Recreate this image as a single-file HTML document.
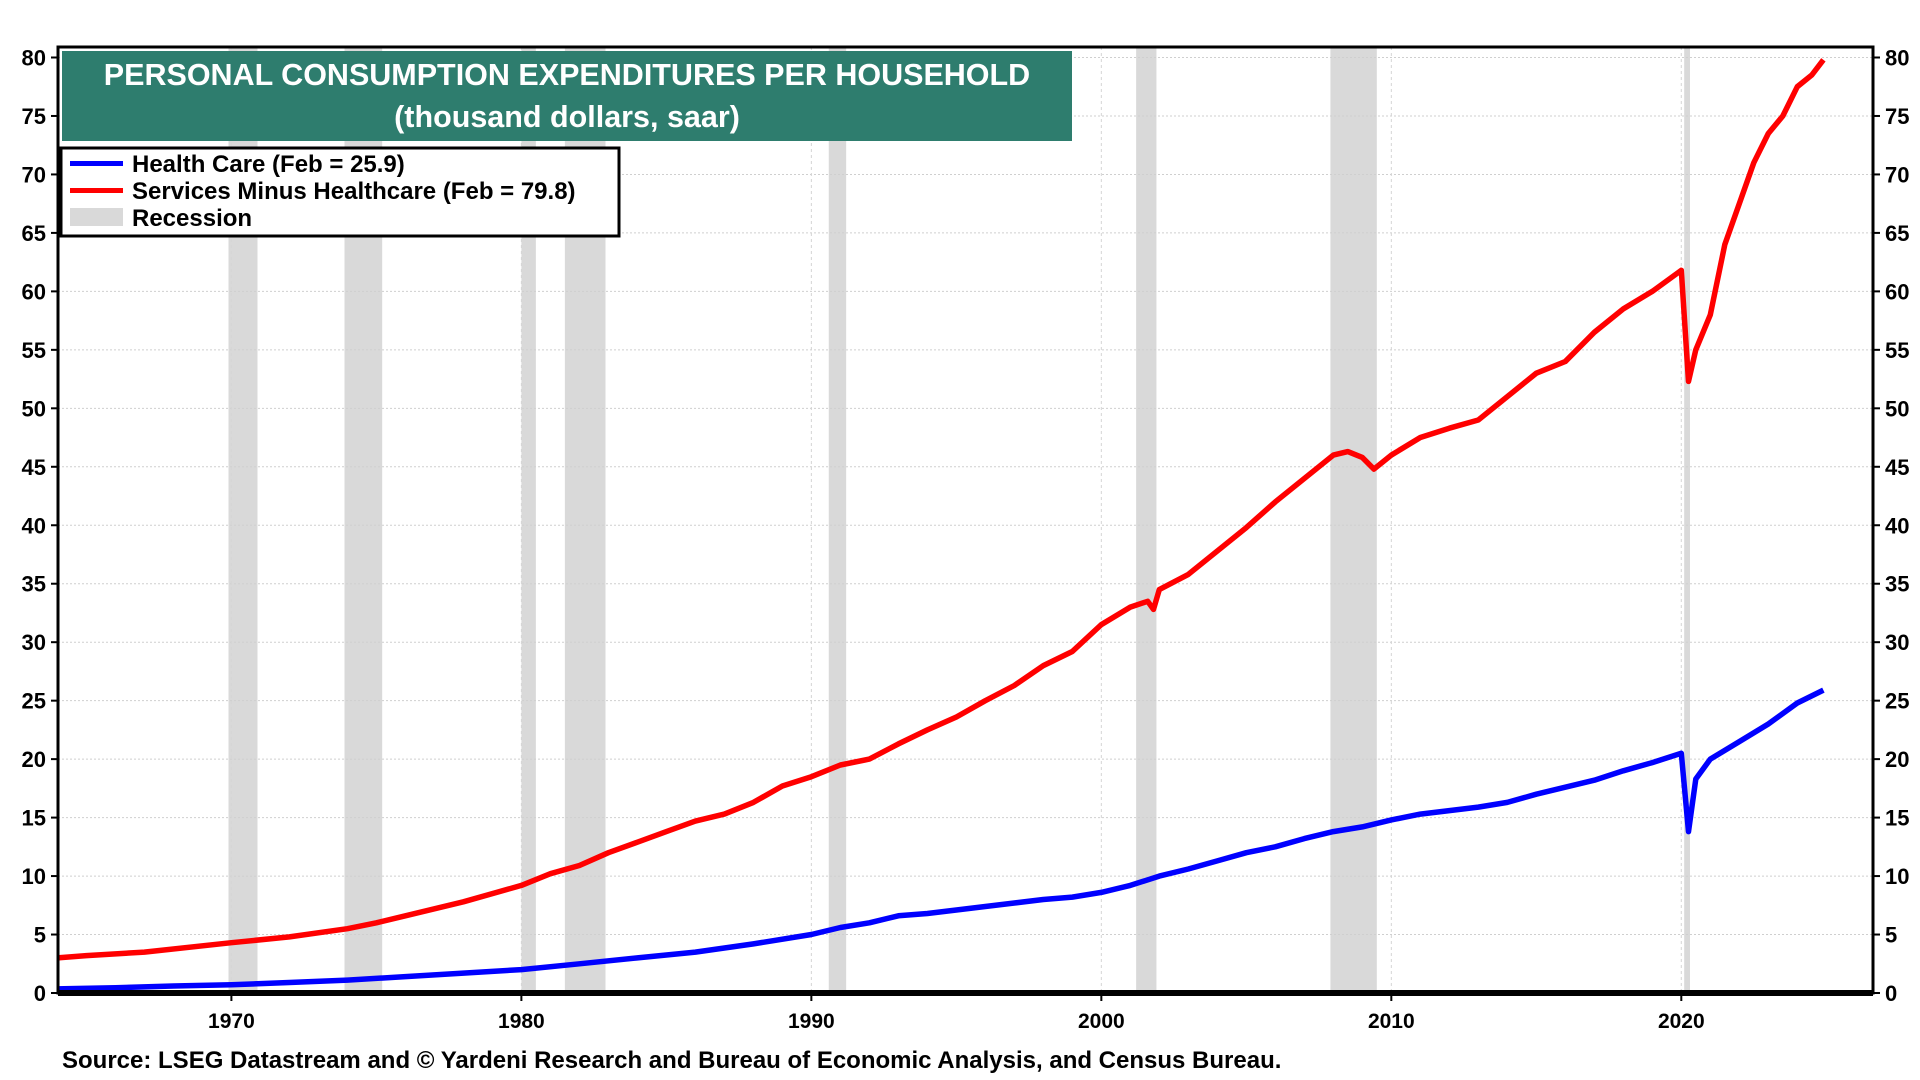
<!DOCTYPE html>
<html><head><meta charset="utf-8"><style>
html,body{margin:0;padding:0;background:#fff;}
svg{display:block;font-family:"Liberation Sans Narrow","Liberation Sans",sans-serif;font-weight:bold;}
</style></head><body>
<svg id="chart" width="1920" height="1080"></svg>
<script>
const recessions=[[1969.9,1970.9],[1973.9,1975.2],[1980.0,1980.5],[1981.5,1982.9],[1990.6,1991.2],[2001.2,2001.9],[2007.9,2009.5],[2020.1,2020.3]];
const yTicks=[0,5,10,15,20,25,30,35,40,45,50,55,60,65,70,75,80];
const xTicks=[1970,1980,1990,2000,2010,2020];
const servYears=[1964,1965,1967,1970,1972,1974,1975,1976,1978,1980,1981,1982,1983,1984,1985,1986,1987,1988,1989,1990,1991,1992,1993,1994,1995,1996,1997,1998,1999,2000,2001,2001.6,2001.8,2002,2003,2004,2005,2006,2007,2008,2008.5,2009,2009.4,2010,2011,2012,2013,2014,2015,2016,2017,2018,2019,2020.0,2020.25,2020.5,2021,2021.5,2022,2022.5,2023,2023.5,2024,2024.5,2024.9];
const servVals=[3.0,3.2,3.5,4.3,4.8,5.5,6.0,6.6,7.8,9.2,10.2,10.9,12.0,12.9,13.8,14.7,15.3,16.3,17.7,18.5,19.5,20.0,21.3,22.5,23.6,25.0,26.3,28.0,29.2,31.5,33.0,33.5,32.8,34.5,35.8,37.8,39.8,42.0,44.0,46.0,46.3,45.8,44.8,46.0,47.5,48.3,49.0,51.0,53.0,54.0,56.5,58.5,60.0,61.8,52.3,55.0,58.0,64.0,67.5,71.0,73.5,75.0,77.5,78.5,79.8];
const hcYears=[1964,1966,1968,1970,1972,1974,1976,1978,1980,1982,1984,1986,1988,1990,1991,1992,1993,1994,1995,1996,1997,1998,1999,2000,2001,2002,2003,2004,2005,2006,2007,2008,2009,2010,2011,2012,2013,2014,2015,2016,2017,2018,2019,2020.0,2020.25,2020.5,2021,2022,2023,2024,2024.9];
const hcVals=[0.35,0.45,0.6,0.7,0.9,1.1,1.4,1.7,2.0,2.5,3.0,3.5,4.2,5.0,5.6,6.0,6.6,6.8,7.1,7.4,7.7,8.0,8.2,8.6,9.2,10.0,10.6,11.3,12.0,12.5,13.2,13.8,14.2,14.8,15.3,15.6,15.9,16.3,17.0,17.6,18.2,19.0,19.7,20.5,13.8,18.3,20.0,21.5,23.0,24.8,25.9];

const L=58,R=1873,T=47,B=993;
const x=yr=>231.4+(yr-1970)*(1681.3-231.4)/50;
const y=v=>B-(v/80)*(B-57.5);
const svg=document.getElementById('chart');
const NS='http://www.w3.org/2000/svg';
function mk(tag,attrs,parent){const e=document.createElementNS(NS,tag);for(const k in attrs)e.setAttribute(k,attrs[k]);(parent||svg).appendChild(e);return e;}

recessions.forEach(r=>{
  const e=mk('rect',{x:x(r[0]),y:T,width:x(r[1])-x(r[0]),height:B-T,fill:'#d9d9d9'});
  
  
});
yTicks.forEach(v=>{
  if(v>0){const g=mk('line',{x1:L,x2:R,y1:y(v),y2:y(v),stroke:'#cfcfcf','stroke-dasharray':'2,2','stroke-width':1});
  }
  const t1=mk('text',{x:L-12,y:y(v)+8,'text-anchor':'end','font-size':22,fill:'#000'});t1.textContent=v;
  
  const t2=mk('text',{x:R+12,y:y(v)+8,'text-anchor':'start','font-size':22,fill:'#000'});t2.textContent=v;
  
  mk('line',{x1:L-7,x2:L,y1:y(v),y2:y(v),stroke:'#000','stroke-width':2});
  mk('line',{x1:R,x2:R+7,y1:y(v),y2:y(v),stroke:'#000','stroke-width':2});
});
xTicks.forEach(v=>{
  const g=mk('line',{x1:x(v),x2:x(v),y1:T,y2:B,stroke:'#d5d5d5','stroke-dasharray':'3,3','stroke-width':1});
  
  mk('line',{x1:x(v),x2:x(v),y1:B,y2:B+8,stroke:'#000','stroke-width':2});
  const t=mk('text',{x:x(v),y:B+35,'text-anchor':'middle','font-size':21,fill:'#000'});t.textContent=v;
  
});
function line(xs,vs,color,name){
  const d=xs.map((a,i)=>(i?'L':'M')+x(a).toFixed(1)+','+y(vs[i]).toFixed(1)).join('');
  const p=mk('path',{d:d,fill:'none',stroke:color,'stroke-width':5.5,'stroke-linejoin':'round'});
  
}
line(servYears,servVals,'#ff0000','services-minus-healthcare-line');
line(hcYears,hcVals,'#0000ff','health-care-line');
const fr=mk('rect',{x:L,y:T,width:R-L,height:B-T,fill:'none',stroke:'#000','stroke-width':3});

mk('line',{x1:L,x2:R,y1:B,y2:B,stroke:'#000','stroke-width':6});

const tb=mk('rect',{x:62,y:51,width:1010,height:90,fill:'#2e7d6e'});

const t1=mk('text',{x:567,y:85,'text-anchor':'middle','font-size':30.5,fill:'#fff','font-family':'Liberation Sans,sans-serif'});t1.textContent='PERSONAL CONSUMPTION EXPENDITURES PER HOUSEHOLD';

const t2=mk('text',{x:567,y:127,'text-anchor':'middle','font-size':30.5,fill:'#fff','font-family':'Liberation Sans,sans-serif'});t2.textContent='(thousand dollars, saar)';


const lg=mk('rect',{x:61,y:148,width:558,height:88,fill:'#fff',stroke:'#000','stroke-width':3});

const items=[['Health Care (Feb = 25.9)','#0000ff','line'],['Services Minus Healthcare (Feb = 79.8)','#ff0000','line'],['Recession','#d9d9d9','box']];
items.forEach((it,i)=>{
  const cy=163+i*27;
  if(it[2]==='line')mk('rect',{x:70,y:cy-2,width:53,height:5,fill:it[1]});
  else mk('rect',{x:70,y:cy-9,width:53,height:18,fill:it[1]});
  const t=mk('text',{x:132,y:cy+9,'font-size':24,fill:'#000','font-family':'Liberation Sans,sans-serif'});t.textContent=it[0];
  
});
const src=mk('text',{x:62,y:1068,'font-size':24,fill:'#000','font-family':'Liberation Sans,sans-serif'});
src.textContent='Source: LSEG Datastream and © Yardeni Research and Bureau of Economic Analysis, and Census Bureau.';

</script>
</body></html>
